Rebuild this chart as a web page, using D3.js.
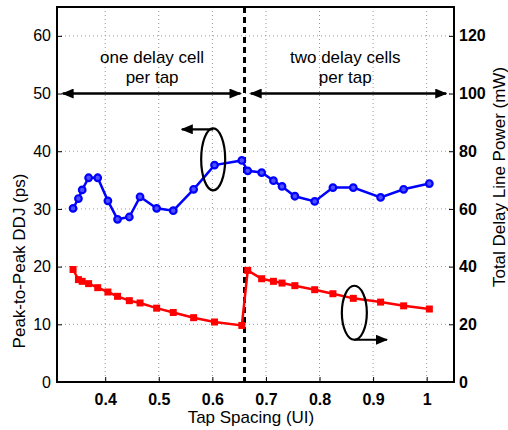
<!DOCTYPE html>
<html>
<head>
<meta charset="utf-8">
<script src="https://cdn.jsdelivr.net/npm/d3@7"></script>
<style>
  body { margin: 0; background: #fff; }
  text { font-family: "Liberation Sans", Arial, Helvetica, sans-serif; }
</style>
</head>
<body>
<div id="chart-area"></div>
<script>
// Data
var tapSpacing = [0.340, 0.350, 0.357, 0.369, 0.386, 0.405, 0.423, 0.445, 0.465, 0.496, 0.527, 0.565, 0.604, 0.655,
                  0.666, 0.692, 0.714, 0.730, 0.754, 0.791, 0.825, 0.863, 0.914, 0.957, 1.005];
var ddj = [30.1, 31.8, 33.3, 35.4, 35.4, 31.4, 28.2, 28.6, 32.1, 30.1, 29.7, 33.4, 37.6, 38.4,
           36.6, 36.3, 34.9, 33.9, 32.2, 31.3, 33.7, 33.7, 32.0, 33.4, 34.4];
var power = [39.0, 35.5, 34.9, 34.1, 32.7, 31.2, 29.7, 28.2, 27.4, 25.6, 24.1, 22.3, 20.8, 19.6,
             38.7, 35.8, 34.9, 34.3, 33.4, 32.0, 30.6, 29.0, 27.7, 26.4, 25.3];
var xTicks = [0.4, 0.5, 0.6, 0.7, 0.8, 0.9, 1];
var leftTicks = [0, 10, 20, 30, 40, 50, 60];
var rightTicks = [0, 20, 40, 60, 80, 100, 120];
var splitAt = 0.66;

var margin = { left: 57, right: 54, top: 7, bottom: 48 };
var width = 508 - margin.left - margin.right,
    height = 430 - margin.top - margin.bottom;

var svg = d3.select("#chart-area")
    .append("svg")
        .attr("width", 508)
        .attr("height", 430);
var g = svg.append("g")
    .attr("transform", "translate(" + margin.left + "," + margin.top + ")");

// Scales
var x = d3.scaleLinear().domain([0.31, 1.051]).range([0, width]);
var y = d3.scaleLinear().domain([0, 65]).range([height, 0]);
var y2 = d3.scaleLinear().domain([0, 130]).range([height, 0]);

// Grid
g.append("g").selectAll("line").data(xTicks).enter().append("line")
    .attr("x1", function(d){ return x(d); }).attr("x2", function(d){ return x(d); })
    .attr("y1", 0).attr("y2", height)
    .attr("stroke", "#999").attr("stroke-width", 1).attr("stroke-dasharray", "1,3");
g.append("g").selectAll("line").data(leftTicks.slice(1)).enter().append("line")
    .attr("x1", 0).attr("x2", width)
    .attr("y1", function(d){ return y(d); }).attr("y2", function(d){ return y(d); })
    .attr("stroke", "#999").attr("stroke-width", 1).attr("stroke-dasharray", "1,3");

// Axes
var xAxisCall = d3.axisBottom(x).tickValues(xTicks).tickSizeInner(-5).tickSizeOuter(0)
    .tickPadding(12).tickFormat(function(d){ return d === 1 ? "1" : d3.format(".1f")(d); });
var xAxis = g.append("g").attr("transform", "translate(0," + height + ")").call(xAxisCall);
xAxis.selectAll("text").attr("font-size", "16px").attr("font-weight", "bold").attr("fill", "#000")
    .attr("font-family", "Liberation Sans, Arial, sans-serif");

var yAxisCall = d3.axisLeft(y).tickValues(leftTicks).tickSizeInner(-5).tickSizeOuter(0).tickPadding(6);
var yAxis = g.append("g").call(yAxisCall);
yAxis.selectAll("text").attr("font-size", "16px").attr("fill", "#000")
    .attr("font-family", "Liberation Sans, Arial, sans-serif");

var y2AxisCall = d3.axisRight(y2).tickValues(rightTicks).tickSizeInner(-5).tickSizeOuter(0).tickPadding(5);
var y2Axis = g.append("g").attr("transform", "translate(" + width + ",0)").call(y2AxisCall);
y2Axis.selectAll("text").attr("font-size", "16px").attr("font-weight", "bold").attr("fill", "#000")
    .attr("font-family", "Liberation Sans, Arial, sans-serif");

svg.selectAll(".domain").remove();
svg.selectAll(".tick line").attr("stroke", "#000");

// Box
g.append("rect")
    .attr("width", width).attr("height", height)
    .attr("fill", "none").attr("stroke", "#000").attr("stroke-width", 2);

// Labels
g.append("text")
    .attr("x", x(0.672)).attr("y", height + 41)
    .attr("text-anchor", "middle").attr("font-size", "17px")
    .text("Tap Spacing (UI)");
svg.append("text")
    .attr("transform", "translate(25,261) rotate(-90)")
    .attr("text-anchor", "middle").attr("font-size", "17px")
    .text("Peak-to-Peak DDJ (ps)");
svg.append("text")
    .attr("transform", "translate(505,177) rotate(-90)")
    .attr("text-anchor", "middle").attr("font-size", "17px")
    .text("Total Delay Line Power (mW)");

// Arrow markers
var defs = svg.append("defs");
defs.append("marker")
    .attr("id", "head").attr("viewBox", "0 0 12 10").attr("refX", 11).attr("refY", 5)
    .attr("markerWidth", 12).attr("markerHeight", 10).attr("markerUnits", "userSpaceOnUse")
    .attr("orient", "auto-start-reverse")
  .append("path").attr("d", "M0,0 L12,5 L0,10 Z").attr("fill", "#000");

// Split line
g.append("line")
    .attr("x1", x(splitAt)).attr("x2", x(splitAt))
    .attr("y1", 0).attr("y2", height)
    .attr("stroke", "#000").attr("stroke-width", 3).attr("stroke-dasharray", "6,4");

// Region arrows
var regionArrows = [[0.3205, 0.6525], [0.6715, 1.0365]];
g.append("g").selectAll("line").data(regionArrows).enter().append("line")
    .attr("x1", function(d){ return x(d[0]); }).attr("x2", function(d){ return x(d[1]); })
    .attr("y1", y(50)).attr("y2", y(50))
    .attr("stroke", "#000").attr("stroke-width", 2.5)
    .attr("marker-start", "url(#head)").attr("marker-end", "url(#head)");

var regionText = [
    { x: 0.4875, lines: ["one delay cell", "per tap"] },
    { x: 0.848, lines: ["two delay cells", "per tap"] }
];
regionText.forEach(function(r){
    r.lines.forEach(function(line, i){
        g.append("text")
            .attr("x", x(r.x)).attr("y", 56 + i * 20)
            .attr("text-anchor", "middle").attr("font-size", "17px")
            .text(line);
    });
});

// Series
var blue = tapSpacing.map(function(t, i){ return [t, ddj[i]]; });
var red = tapSpacing.map(function(t, i){ return [t, power[i]]; });

g.append("path").datum(blue)
    .attr("fill", "none").attr("stroke", "#0000ff").attr("stroke-width", 2.5)
    .attr("d", d3.line().x(function(d){ return x(d[0]); }).y(function(d){ return y(d[1]); }));
g.append("path").datum(red)
    .attr("fill", "none").attr("stroke", "#ff0000").attr("stroke-width", 2.5)
    .attr("d", d3.line().x(function(d){ return x(d[0]); }).y(function(d){ return y2(d[1]); }));

g.selectAll("circle.ddj").data(blue).enter().append("circle")
    .attr("class", "ddj")
    .attr("cx", function(d){ return x(d[0]); }).attr("cy", function(d){ return y(d[1]); })
    .attr("r", 3.3).attr("fill", "#5050ff").attr("stroke", "#0000ff").attr("stroke-width", 2.2);

g.selectAll("rect.pow").data(red).enter().append("rect")
    .attr("class", "pow")
    .attr("x", function(d){ return x(d[0]) - 3.5; }).attr("y", function(d){ return y2(d[1]) - 3.5; })
    .attr("width", 7).attr("height", 7).attr("fill", "#ff0000");

// Axis indicator ellipses
g.append("ellipse")
    .attr("cx", x(0.6015)).attr("cy", y(38.6)).attr("rx", 12).attr("ry", 31)
    .attr("fill", "none").attr("stroke", "#000").attr("stroke-width", 2.2);
g.append("line")
    .attr("x1", x(0.6015)).attr("x2", x(0.543))
    .attr("y1", y(38.6) - 30).attr("y2", y(38.6) - 30)
    .attr("stroke", "#000").attr("stroke-width", 2.2).attr("marker-end", "url(#head)");

g.append("ellipse")
    .attr("cx", x(0.865)).attr("cy", y2(24)).attr("rx", 12.5).attr("ry", 27)
    .attr("fill", "none").attr("stroke", "#000").attr("stroke-width", 2.2);
g.append("line")
    .attr("x1", x(0.865)).attr("x2", x(0.926))
    .attr("y1", y2(24) + 27).attr("y2", y2(24) + 27)
    .attr("stroke", "#000").attr("stroke-width", 2.2).attr("marker-end", "url(#head)");
</script>
</body>
</html>
